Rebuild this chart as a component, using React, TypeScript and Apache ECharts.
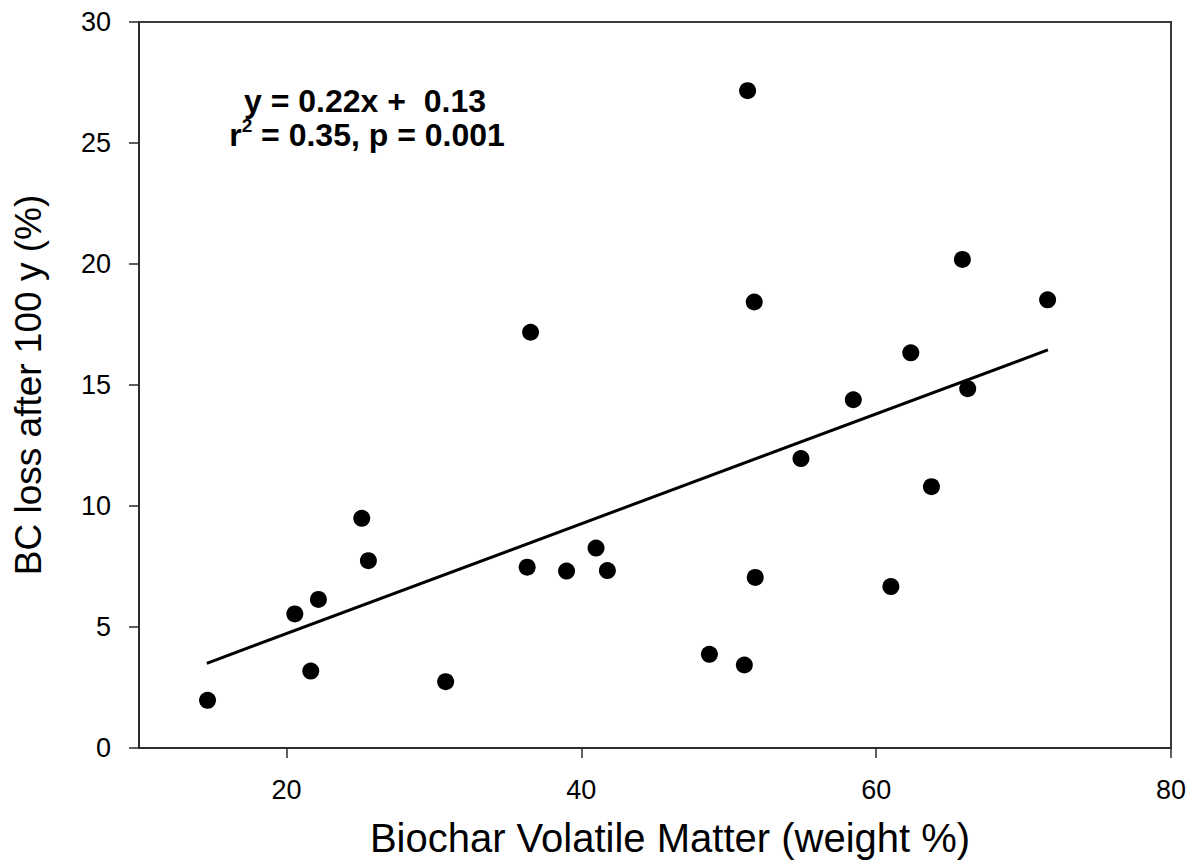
import React, { useEffect, useRef } from "react";
import * as echarts from "echarts";

// Biochar volatile matter (weight %) vs BC loss after 100 y (%)
const volatileMatter = [
  14.65, 20.57, 21.65, 22.17, 25.11, 25.56, 30.8, 36.33, 36.56, 39.0, 41.0, 41.77,
  48.69, 51.06, 51.28, 51.73, 51.8, 54.9, 58.45, 61.0, 62.35, 63.75, 65.85, 66.21, 71.63,
];
const bcLoss = [
  1.97, 5.54, 3.18, 6.14, 9.49, 7.74, 2.74, 7.47, 17.18, 7.31, 8.26, 7.33,
  3.87, 3.43, 27.16, 18.43, 7.05, 11.96, 14.39, 6.67, 16.33, 10.8, 20.19, 14.85, 18.52,
];

// Fitted regression line end points (as drawn)
const trendX = [14.6, 71.65];
const trendY = [3.5, 16.45];

const xTicks = [20, 40, 60, 80];
const yTicks = [0, 5, 10, 15, 20, 25, 30];

const xTitle = "Biochar Volatile Matter (weight %)";
const yTitle = "BC loss after 100 y (%)";
const eqLine = "y = 0.22x +  0.13";
const statLine = "r{s|2} = 0.35, p = 0.001";

const FONT = "'Liberation Sans', Arial, Helvetica, sans-serif";

export default function App() {
  const ref = useRef<HTMLDivElement>(null);

  useEffect(() => {
    if (!ref.current) return;
    const chart = echarts.init(ref.current, undefined, { renderer: "svg" });
    const points = volatileMatter.map((x, i) => [x, bcLoss[i]]);
    const trend = trendX.map((x, i) => [x, trendY[i]]);
    const axisLine = { show: true, lineStyle: { color: "#2a2a2a", width: 1.5 } };

    chart.setOption({
      animation: false,
      backgroundColor: "#ffffff",
      grid: {
        left: 139,
        right: 22,
        top: 22,
        bottom: 117,
        show: true,
        borderColor: "#3a3a3a",
        borderWidth: 2,
        backgroundColor: "transparent",
      },
      xAxis: {
        type: "value",
        min: 10,
        max: 80,
        name: xTitle,
        nameLocation: "middle",
        nameGap: 70,
        nameTextStyle: {
          fontFamily: FONT,
          fontSize: 40,
          color: "#000",
          padding: [0, 0, 0, 30],
        },
        axisLine,
        axisTick: {
          show: true,
          inside: false,
          length: 10,
          customValues: xTicks,
          lineStyle: { color: "#2a2a2a", width: 1.5 },
        },
        axisLabel: {
          customValues: xTicks,
          margin: 28,
          fontFamily: FONT,
          fontSize: 27,
          color: "#000",
        },
        splitLine: { show: false },
      },
      yAxis: {
        type: "value",
        min: 0,
        max: 30,
        interval: 5,
        name: yTitle,
        nameLocation: "middle",
        nameGap: 92,
        nameTextStyle: { fontFamily: FONT, fontSize: 37, color: "#000" },
        axisLine,
        axisTick: {
          show: true,
          inside: false,
          length: 10,
          lineStyle: { color: "#2a2a2a", width: 1.5 },
        },
        axisLabel: {
          margin: 28,
          fontFamily: FONT,
          fontSize: 27,
          color: "#000",
          formatter: (v: number) => (yTicks.includes(v) ? String(v) : ""),
        },
        splitLine: { show: false },
      },
      series: [
        {
          type: "line",
          data: trend,
          showSymbol: false,
          symbol: "none",
          lineStyle: { color: "#000", width: 3 },
          z: 2,
        },
        {
          type: "scatter",
          data: points,
          symbol: "circle",
          symbolSize: 17,
          itemStyle: { color: "#000", opacity: 1 },
          z: 3,
        },
      ],
      graphic: [
        {
          type: "text",
          x: 365,
          y: 101,
          style: {
            text: eqLine,
            fontFamily: FONT,
            fontSize: 32,
            fontWeight: "bold",
            fill: "#000",
            align: "center",
            verticalAlign: "middle",
            lineHeight: 24,
          },
        },
        {
          type: "text",
          x: 367,
          y: 135,
          style: {
            text: statLine,
            fontFamily: FONT,
            fontSize: 32,
            fontWeight: "bold",
            fill: "#000",
            align: "center",
            verticalAlign: "middle",
            lineHeight: 38,
            rich: {
              s: {
                fontFamily: FONT,
                fontSize: 19,
                fontWeight: "bold",
                fill: "#000",
                lineHeight: 20,
                verticalAlign: "top",
              },
            },
          },
        },
      ],
    });

    return () => chart.dispose();
  }, []);

  return (
    <div
      ref={ref}
      style={{ position: "fixed", left: 0, top: 0, width: 1193, height: 865, background: "#fff" }}
    />
  );
}
